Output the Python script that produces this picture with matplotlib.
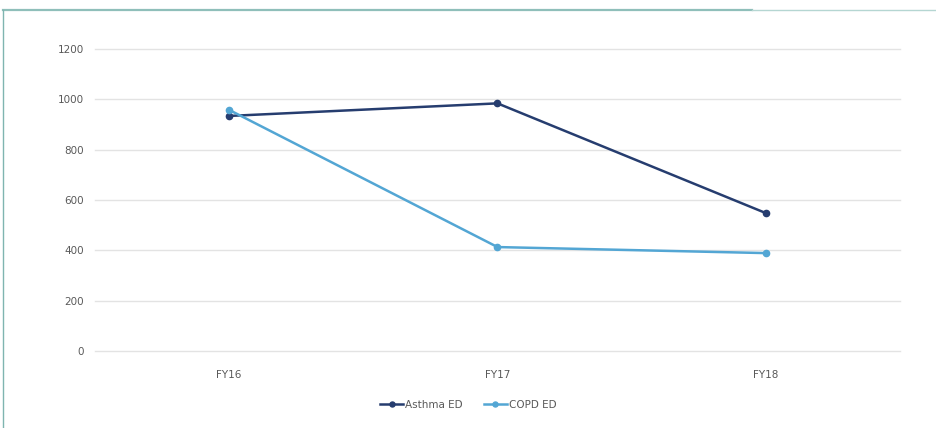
import matplotlib
matplotlib.use("Agg")
import matplotlib.pyplot as plt
from matplotlib.lines import Line2D

categories = ["FY16", "FY17", "FY18"]
asthma_ed = [934, 984, 548]
copd_ed = [958, 413, 389]
yticks = [0, 200, 400, 600, 800, 1000, 1200]

W, H = 937, 428
fig = plt.figure(figsize=(W / 100, H / 100), dpi=100)
fig.patch.set_facecolor("white")

ax = fig.add_axes([95 / W, 1 - 351 / H, (900 - 95) / W, (351 - 49) / H])
x = list(range(len(categories)))
ax.plot(x, asthma_ed, color="#263d6f", lw=1.8, marker="o", ms=4.5, label="Asthma ED", zorder=3)
ax.plot(x, copd_ed, color="#53a6d4", lw=1.8, marker="o", ms=4.5, label="COPD ED", zorder=3)

ax.set_xlim(-0.5, len(categories) - 0.5)
ax.set_ylim(0, 1200)
ax.set_yticks(yticks)
ax.set_xticks(x)
ax.set_xticklabels(categories)
ax.grid(axis="y", color="#e3e3e3", lw=1)
for gl in ax.get_ygridlines():
    gl.set_clip_on(False)
ax.set_axisbelow(True)
for s in ax.spines.values():
    s.set_visible(False)
ax.tick_params(length=0, labelsize=7.5, colors="#595959", pad=8)
ax.tick_params(axis="x", pad=14)

fig.legend(loc="center", bbox_to_anchor=(0.5, 1 - 405 / H), ncol=2, frameon=False,
           fontsize=7.5, labelcolor="#595959", handlelength=2.2, columnspacing=2.0,
           handletextpad=0.2, markerscale=0.8)

# frame lines
fig.add_artist(Line2D([3 / W, 752 / W], [1 - 9.5 / H, 1 - 9.5 / H], color="#8fbfba", lw=1.6))
fig.add_artist(Line2D([752 / W, 1.0], [1 - 9.5 / H, 1 - 9.5 / H], color="#b5d6d2", lw=1.0))
fig.add_artist(Line2D([3.5 / W, 3.5 / W], [0, 1 - 9.5 / H], color="#7fb5b0", lw=1.0))

fig.savefig("out.png", dpi=100)
